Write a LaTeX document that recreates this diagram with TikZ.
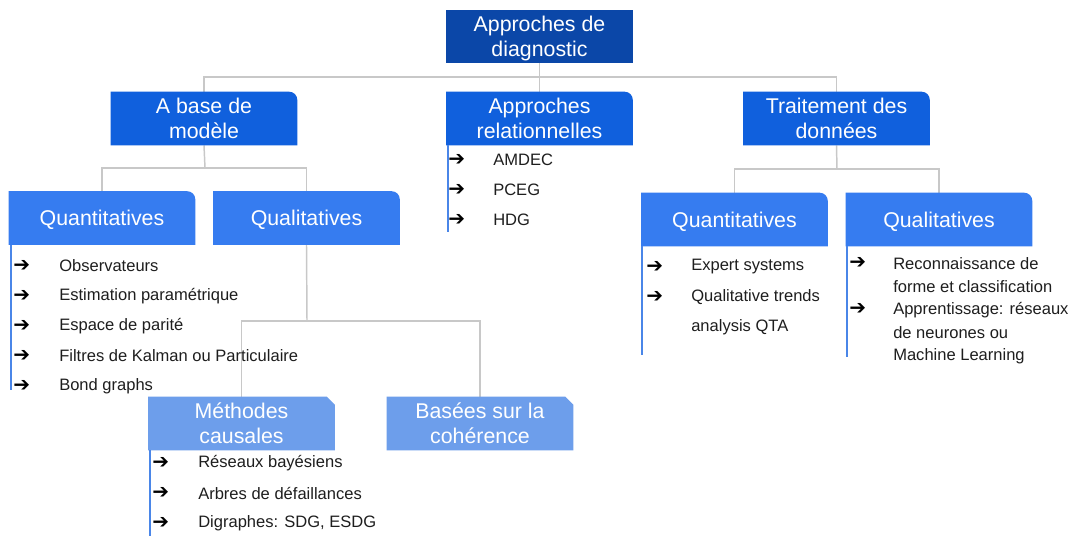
\documentclass[tikz,border=0pt]{standalone}
\usepackage{fontspec}
\setmainfont{Liberation Sans}
\newfontfamily\arrowfont{DejaVu Sans Bold}
\usetikzlibrary{backgrounds}
\definecolor{cRoot}{HTML}{0B47A8}
\definecolor{cOne}{HTML}{1060DD}
\definecolor{cTwo}{HTML}{367CF0}
\definecolor{cThree}{HTML}{6D9EEB}
\definecolor{cLine}{HTML}{C8C8C8}
\definecolor{cBar}{HTML}{4A86E8}
\definecolor{cText}{HTML}{1E1E1E}
\newcommand\tabfill[2]{\fill[#2] (#1.south west) |- ([xshift=-6pt]#1.north east) arc[start angle=90,end angle=0,radius=6pt] |- (#1.south west) -- cycle;}
\newcommand\chamfill[2]{\fill[#2] (#1.south west) |- ([xshift=-6pt]#1.north east) -- ([yshift=-6pt]#1.north east) |- (#1.south west) -- cycle;}
\begin{document}
\begin{tikzpicture}[x=0.75pt,y=-0.75pt,
  hdr/.style={text=white, align=center, inner sep=0pt, font=\fontsize{16}{18.6}\selectfont,
    minimum width=139.5pt, minimum height=39.75pt, text depth=0pt},
  conn/.style={draw=cLine, line width=1.1pt},
  bar/.style={draw=cBar, line width=1.4pt},
  itm/.style={anchor=west, inner sep=0pt, text=cText, font=\fontsize{12.4}{14}\selectfont},
  arr/.style={anchor=west, inner sep=0pt, text=black, font=\arrowfont\fontsize{15}{16}\selectfont}]
\useasboundingbox (0,0) rectangle (1072,536);

% header nodes
\node[hdr, fill=cRoot, minimum width=140.25pt] (root) at (539.5,36.5) {Approches de\\diagnostic};
\node[hdr] (mod) at (204,118.5) {A base de\\modèle};
\node[hdr] (rel) at (539.5,118.5) {Approches\\relationnelles};
\node[hdr] (don) at (836.5,118.5) {Traitement des\\données};
\node[hdr] (quantL) at (102,218) {Quantitatives};
\node[hdr] (qualL) at (306.5,218) {Qualitatives};
\node[hdr] (quantR) at (734.5,219.5) {Quantitatives};
\node[hdr] (qualR) at (939,219.5) {Qualitatives};
\node[hdr] (caus) at (241.5,423.5) {Méthodes\\causales};
\node[hdr] (coh) at (480,423.5) {Basées sur la\\cohérence};

\begin{scope}[on background layer]
  \fill[white] (0,0) rectangle (1072,536);
  % connectors
  \coordinate (j0) at (539.5,77);
  \draw[conn] (root.south) -- (rel.north);
  \draw[conn] (mod.north) |- (j0) -| (don.north);
  \coordinate (j1) at (205,168);
  \draw[conn] (mod.south) -- (j1);
  \draw[conn] (quantL.north) |- (j1) -| (qualL.north);
  \coordinate (j2) at (307,321);
  \draw[conn] (qualL.south) -- (j2);
  \draw[conn] (caus.north) |- (j2) -| (coh.north);
  \coordinate (j3) at (837,169);
  \draw[conn] (don.south) -- (j3);
  \draw[conn] (quantR.north) |- (j3) -| (qualR.north);
  % box fills
  \tabfill{mod}{cOne}
  \tabfill{rel}{cOne}
  \tabfill{don}{cOne}
  \tabfill{quantL}{cTwo}
  \tabfill{qualL}{cTwo}
  \tabfill{quantR}{cTwo}
  \tabfill{qualR}{cTwo}
  \chamfill{caus}{cThree}
  \chamfill{coh}{cThree}
\end{scope}

% list bars
\draw[bar] ([xshift=1.5pt]quantL.south west) -- ++(0,145);
\draw[bar] ([xshift=1.2pt]rel.south west) -- ++(0,87);
\draw[bar] ([xshift=0.8pt]quantR.south west) -- ++(0,109);
\draw[bar] ([xshift=1pt]qualR.south west) -- ++(0,111);
\draw[bar] ([xshift=1pt]caus.south west) -- ++(0,86);

% Quantitatives (left)
\node[arr] (a1) at (13,266) {➔};
\node[itm] (t1) at (59,266) {Observateurs};
\node[arr] (a2) at (13,296) {➔};
\node[itm] (t2) at (59,296) {Estimation paramétrique};
\node[arr] (a3) at (13,326) {➔};
\node[itm] (t3) at (59,326) {Espace de parité};
\node[arr] (a4) at (13,356) {➔};
\node[itm] (t4) at (59,356) {Filtres de Kalman ou Particulaire};
\node[arr] (a5) at (13,386) {➔};
\node[itm] (t5) at (59,386) {Bond graphs};

% Approches relationnelles
\node[arr] (b1) at (448,160) {➔};
\node[itm] (u1) at (493,160) {AMDEC};
\node[arr] (b2) at (448,190) {➔};
\node[itm] (u2) at (493,190) {PCEG};
\node[arr] (b3) at (448,220) {➔};
\node[itm] (u3) at (493,220) {HDG};

% Methodes causales
\node[arr] (c1) at (152,463) {➔};
\node[itm] (v1) at (198,463) {Réseaux bayésiens};
\node[arr] (c2) at (152,493) {➔};
\node[itm] (v2) at (198,493) {Arbres de défaillances};
\node[arr] (c3) at (152,523) {➔};
\node[itm] (v3) at (198,523) {Digraphes: SDG, ESDG};

% Quantitatives (right)
\node[arr] (d1) at (646,267) {➔};
\node[itm] (w1) at (691,267) {Expert systems};
\node[arr] (d2) at (646,297) {➔};
\node[itm] (w2) at (691,297) {Qualitative trends};
\node[itm] (w3) at (691,327) {analysis QTA};

% Qualitatives (right)
\node[arr] (e1) at (849,263) {➔};
\node[itm] (x1) at (893,264) {Reconnaissance de};
\node[itm] (x2) at (893,287) {forme et classification};
\node[arr] (e2) at (849,309) {➔};
\node[itm] (x3) at (893,310) {Apprentissage: réseaux};
\node[itm] (x4) at (893,333) {de neurones ou};
\node[itm] (x5) at (893,356) {Machine Learning};
\end{tikzpicture}
\end{document}
